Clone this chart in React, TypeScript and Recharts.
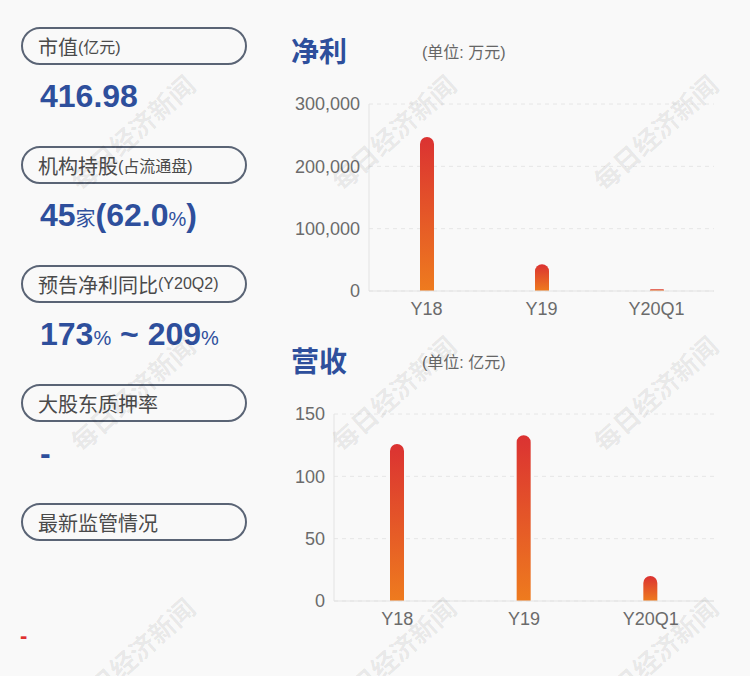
import React from "react";
import { BarChart, Bar, XAxis, YAxis, CartesianGrid } from "recharts";

const categories = ["Y18", "Y19", "Y20Q1"];
const profitValues = [247000, 43000, 3000]; // 万元
const revenueValues = [126, 133, 20]; // 亿元
const profitTicks = [0, 100000, 200000, 300000];
const revenueTicks = [0, 50, 100, 150];

const profitData = categories.map((name, i) => ({ name, value: profitValues[i] }));
const revenueData = categories.map((name, i) => ({ name, value: revenueValues[i] }));

const FONT = '"Liberation Sans", Arial, "Noto Sans CJK SC", sans-serif';
const BLUE = "#2e4f9c";
const PILL_TOPS = [27, 146, 265, 384, 503];
const PILL_LABELS: [string, string][] = [
  ["市值", "(亿元)"],
  ["机构持股", "(占流通盘)"],
  ["预告净利同比", "(Y20Q2)"],
  ["大股东质押率", ""],
  ["最新监管情况", ""],
];
const WATERMARK_X = [132, 393, 655];
const WATERMARK_Y = [132, 393, 655];

function Pill({ top, main, sub }: { top: number; main: string; sub: string }) {
  return (
    <div
      style={{
        position: "absolute",
        left: 21,
        top,
        width: 226,
        height: 38,
        border: "2px solid #5a6475",
        borderRadius: 19,
        display: "flex",
        alignItems: "center",
        paddingLeft: 15,
        boxSizing: "border-box",
        color: "#4a4a4a",
        whiteSpace: "nowrap",
      }}
    >
      <span style={{ fontSize: 20 }}>{main}</span>
      {sub && <span style={{ fontSize: 16 }}>{sub}</span>}
    </div>
  );
}

function Value({ top, children }: { top: number; children: React.ReactNode }) {
  return (
    <div
      style={{
        position: "absolute",
        left: 40,
        top,
        color: BLUE,
        fontWeight: 700,
        fontSize: 32,
        whiteSpace: "nowrap",
        lineHeight: "36px",
      }}
    >
      {children}
    </div>
  );
}

function Gradient({ id }: { id: string }) {
  return (
    <defs>
      <linearGradient id={id} x1="0" y1="0" x2="0" y2="1">
        <stop offset="0%" stopColor="#db3232" />
        <stop offset="100%" stopColor="#ee7b1e" />
      </linearGradient>
    </defs>
  );
}

const tickStyle = { fill: "#6b6b6b", fontSize: 18, fontFamily: FONT };

export default function App() {
  return (
    <div
      style={{
        position: "absolute",
        left: 0,
        top: 0,
        width: 750,
        height: 676,
        background: "#f9f9f9",
        fontFamily: FONT,
        overflow: "hidden",
      }}
    >
      {PILL_LABELS.map(([m, s], i) => (
        <Pill key={m} top={PILL_TOPS[i]} main={m} sub={s} />
      ))}
      <Value top={78}>416.98</Value>
      <Value top={197}>
        45<span style={{ fontSize: 20, fontWeight: 400 }}>家</span>(62.0
        <span style={{ fontSize: 20, fontWeight: 400 }}>%</span>)
      </Value>
      <Value top={316}>
        173<span style={{ fontSize: 20, fontWeight: 400 }}>%</span> ~ 209
        <span style={{ fontSize: 20, fontWeight: 400 }}>%</span>
      </Value>
      <Value top={435}>-</Value>
      <div
        style={{
          position: "absolute",
          left: 20,
          top: 623,
          color: "#e03030",
          fontSize: 22,
          fontWeight: 700,
        }}
      >
        -
      </div>

      <div style={{ position: "absolute", left: 291, top: 30, fontSize: 28, fontWeight: 700, color: BLUE }}>
        净利
      </div>
      <div style={{ position: "absolute", left: 422, top: 39, fontSize: 16, color: "#666" }}>
        (单位: 万元)
      </div>
      <div style={{ position: "absolute", left: 291, top: 340, fontSize: 28, fontWeight: 700, color: BLUE }}>
        营收
      </div>
      <div style={{ position: "absolute", left: 422, top: 349, fontSize: 16, color: "#666" }}>
        (单位: 亿元)
      </div>

      <div style={{ position: "absolute", left: 280, top: 90 }}>
        <BarChart width={450} height={240} data={profitData} margin={{ top: 14, right: 16, bottom: 9, left: 0 }}>
          <Gradient id="gradProfit" />
          <CartesianGrid vertical={false} stroke="#e6e6e6" strokeDasharray="4 4" />
          <XAxis
            dataKey="name"
            tick={tickStyle}
            tickLine={false}
            axisLine={{ stroke: "#e3e3e3" }}
            tickMargin={5}
            height={30}
          />
          <YAxis
            domain={[0, 300000]}
            ticks={profitTicks}
            tickFormatter={(v: number) => v.toLocaleString("en-US")}
            tick={tickStyle}
            tickLine={false}
            tickSize={0}
            tickMargin={9}
            axisLine={{ stroke: "#e3e3e3" }}
            width={89}
          />
          <Bar dataKey="value" barSize={14} radius={[7, 7, 0, 0]} fill="url(#gradProfit)" isAnimationActive={false} />
        </BarChart>
      </div>

      <div style={{ position: "absolute", left: 280, top: 400 }}>
        <BarChart width={450} height={240} data={revenueData} margin={{ top: 14, right: 16, bottom: 9, left: 0 }}>
          <Gradient id="gradRevenue" />
          <CartesianGrid vertical={false} stroke="#e6e6e6" strokeDasharray="4 4" />
          <XAxis
            dataKey="name"
            tick={tickStyle}
            tickLine={false}
            axisLine={{ stroke: "#e3e3e3" }}
            tickMargin={5}
            height={30}
          />
          <YAxis
            domain={[0, 150]}
            ticks={revenueTicks}
            tick={tickStyle}
            tickLine={false}
            tickSize={0}
            tickMargin={9}
            axisLine={{ stroke: "#e3e3e3" }}
            width={54}
          />
          <Bar dataKey="value" barSize={14} radius={[7, 7, 0, 0]} fill="url(#gradRevenue)" isAnimationActive={false} />
        </BarChart>
      </div>

      {WATERMARK_Y.map((cy) =>
        WATERMARK_X.map((cx) => (
          <div
            key={`${cx}-${cy}`}
            style={{
              position: "absolute",
              left: cx - 90,
              top: cy - 16,
              width: 180,
              height: 32,
              lineHeight: "32px",
              textAlign: "center",
              fontSize: 26,
              fontWeight: 700,
              fontFamily: '"Noto Sans CJK SC", sans-serif',
              color: "rgba(0,0,0,0.08)",
              transform: "rotate(-42deg)",
              pointerEvents: "none",
              whiteSpace: "nowrap",
            }}
          >
            每日经济新闻
          </div>
        ))
      )}
    </div>
  );
}
